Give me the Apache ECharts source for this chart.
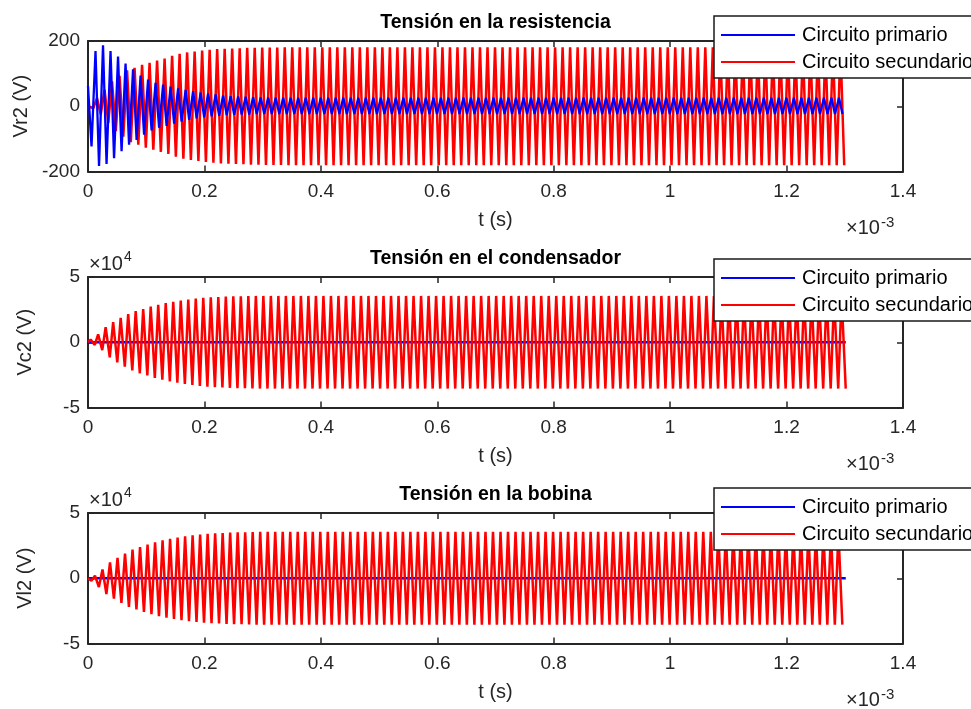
<!DOCTYPE html>
<html><head><meta charset="utf-8">
<script src="https://cdn.jsdelivr.net/npm/echarts@6/dist/echarts.min.js"></script>
<style>html,body{margin:0;padding:0;background:#fff}#c{width:971px;height:709px}</style>
</head><body><div id="c"></div>
<script>
// ---------- data ----------
const titles = ['Tensión en la resistencia', 'Tensión en el condensador', 'Tensión en la bobina'];
const yNames = ['Vr2 (V)', 'Vc2 (V)', 'Vl2 (V)'];
const seriesNames = ['Circuito primario', 'Circuito secundario'];
const xLabel = 't (s)';
const xMin = 0, xMax = 1.4e-3, xStep = 2e-4;          // ticks 0 ... 1.4 (x10^-3)
const yRanges = [[-200, 200, 200], [-5e4, 5e4, 5e4], [-5e4, 5e4, 5e4]];
const yLabelDiv = [1, 1e4, 1e4];

const periodS = 1.29e-5;      // oscillation period
const tEndS = 1.3017e-3;      // last time sample

// Vr2, secondary circuit: amplitude (V) of each cycle, peak at (k+0.2)T, trough at (k+0.7)T
const vr2SecAmp = [
  6, 25, 51, 76, 93, 110, 118, 127, 133, 140,
  146, 155, 161, 165, 168, 171, 173, 175, 176, 177,
  178, 179, 179, 180, 180, 180, 181, 181, 181, 181,
  181, 181, 181, 181, 181, 181, 181, 181, 181, 181,
  181, 181, 181, 181, 181, 181, 181, 181, 181, 181,
  181, 181, 181, 181, 181, 181, 181, 181, 181, 181,
  181, 181, 181, 181, 181, 181, 181, 181, 181, 181,
  181, 181, 181, 181, 181, 181, 181, 181, 181, 181,
  181, 181, 181, 181, 181, 181, 181, 181, 181, 181,
  181, 181, 181, 181, 181, 181, 181, 181, 181, 181,
  181];
const vr2SecPhase = [0.2, 0.7];

// Vr2, primary circuit: positive peaks (at kT) and negative troughs (at (k+0.47)T), V
const vr2PrimPos = [
  62, 169, 187, 169, 152, 131, 113, 94, 82, 72,
  66, 60, 55, 50, 46, 42, 39, 36, 33, 31,
  30, 29, 28, 27, 27, 26, 26, 26, 26, 26,
  26, 26, 26, 26, 26, 26, 26, 26, 26, 26,
  26, 26, 26, 26, 26, 26, 26, 26, 26, 26,
  26, 26, 26, 26, 26, 26, 26, 26, 26, 26,
  26, 26, 26, 26, 26, 26, 26, 26, 26, 26,
  26, 26, 26, 26, 26, 26, 26, 26, 26, 26,
  26, 26, 26, 26, 26, 26, 26, 26, 26, 26,
  26, 26, 26, 26, 26, 26, 26, 26, 26, 26,
  26];
const vr2PrimNeg = [
  123, 183, 177, 159, 138, 118, 103, 87, 74, 66,
  60, 53, 47, 42, 37, 34, 31, 29, 27, 26,
  25, 25, 24, 24, 24, 24, 24, 24, 24, 24,
  24, 24, 24, 24, 24, 24, 24, 24, 24, 24,
  24, 24, 24, 24, 24, 24, 24, 24, 24, 24,
  24, 24, 24, 24, 24, 24, 24, 24, 24, 24,
  24, 24, 24, 24, 24, 24, 24, 24, 24, 24,
  24, 24, 24, 24, 24, 24, 24, 24, 24, 24,
  24, 24, 24, 24, 24, 24, 24, 24, 24, 24,
  24, 24, 24, 24, 24, 24, 24, 24, 24, 24,
  24];
const vr2PrimPhase = [0.0, 0.47];

// Vc2, secondary circuit: amplitude (V) per cycle, peak at (k+0.35)T, trough at (k+0.9)T
const vc2SecAmp = [
  2000, 6000, 11500, 15500, 18700, 21500, 23800, 25500, 27300, 28600,
  30000, 31000, 32000, 32800, 33500, 34000, 34400, 34700, 35000, 35200,
  35300, 35400, 35500, 35500, 35500, 35500, 35500, 35500, 35500, 35500,
  35500, 35500, 35500, 35500, 35500, 35500, 35500, 35500, 35500, 35500,
  35500, 35500, 35500, 35500, 35500, 35500, 35500, 35500, 35500, 35500,
  35500, 35500, 35500, 35500, 35500, 35500, 35500, 35500, 35500, 35500,
  35500, 35500, 35500, 35500, 35500, 35500, 35500, 35500, 35500, 35500,
  35500, 35500, 35500, 35500, 35500, 35500, 35500, 35500, 35500, 35500,
  35500, 35500, 35500, 35500, 35500, 35500, 35500, 35500, 35500, 35500,
  35500, 35500, 35500, 35500, 35500, 35500, 35500, 35500, 35500, 35500,
  35500];
const vc2SecPhase = [0.35, 0.9];

// Vl2, secondary circuit: amplitude (V) per cycle, trough at (k+0.45)T, peak at (k+0.93)T
const vl2SecAmp = [
  2000, 6700, 12100, 15700, 18800, 21900, 23900, 25800, 27500, 29000,
  30200, 31200, 32100, 32900, 33500, 34000, 34400, 34700, 35000, 35200,
  35300, 35400, 35500, 35500, 35500, 35500, 35500, 35500, 35500, 35500,
  35500, 35500, 35500, 35500, 35500, 35500, 35500, 35500, 35500, 35500,
  35500, 35500, 35500, 35500, 35500, 35500, 35500, 35500, 35500, 35500,
  35500, 35500, 35500, 35500, 35500, 35500, 35500, 35500, 35500, 35500,
  35500, 35500, 35500, 35500, 35500, 35500, 35500, 35500, 35500, 35500,
  35500, 35500, 35500, 35500, 35500, 35500, 35500, 35500, 35500, 35500,
  35500, 35500, 35500, 35500, 35500, 35500, 35500, 35500, 35500, 35500,
  35500, 35500, 35500, 35500, 35500, 35500, 35500, 35500, 35500, 35500,
  35500];
const vl2SecPhase = [0.93, 0.45];

// primary circuit in the capacitor / coil panels: stays at ~0 V on the 10^4 scale
const primFlatTimes = [0, 1.3017e-3];
const vc1Prim = [0, 0];
const vl1Prim = [0, 0];

// ---------- build series points ----------
function wave(posArr, negArr, phase, startZero) {
  const pts = [];
  if (startZero) pts.push([0, 0]);
  for (let k = 0; k < posArr.length; k++) {
    pts.push([(k + phase[0]) * periodS, posArr[k]]);
    pts.push([(k + phase[1]) * periodS, -negArr[k]]);
  }
  pts.sort((a, b) => a[0] - b[0]);
  return pts.filter(p => p[0] <= tEndS + 1e-12);
}
const flat = (ts, vs) => ts.map((t, i) => [t, vs[i]]);

const dataSets = [
  { prim: wave(vr2PrimPos, vr2PrimNeg, vr2PrimPhase, false), sec: wave(vr2SecAmp, vr2SecAmp, vr2SecPhase, true), primOnTop: true },
  { prim: flat(primFlatTimes, vc1Prim), sec: wave(vc2SecAmp, vc2SecAmp, vc2SecPhase, true), primOnTop: false },
  { prim: flat(primFlatTimes, vl1Prim), sec: wave(vl2SecAmp, vl2SecAmp, vl2SecPhase, true), primOnTop: false }
];

// ---------- layout ----------
const gridTops = [41, 277, 513];
const legendTops = [16, 259, 488];
const gridH = 130.5;
const gridLeft = 88, gridW = 815;
const AX = '#262626';
const FONT = 'Liberation Sans, Arial, Helvetica, sans-serif';

const chart = echarts.init(document.getElementById('c'), null, { renderer: 'canvas' });
const grid = [], xAxis = [], yAxis = [], series = [], title = [], legend = [], graphic = [];
const fmtX = v => String(parseFloat((v * 1e3).toFixed(4)));

gridTops.forEach((top, i) => {
  grid.push({ left: gridLeft, top: top, width: gridW, height: gridH, show: false });
  const line = { show: true, onZero: false, lineStyle: { color: AX, width: 2 } };
  const tick = { show: true, inside: true, length: 6, lineStyle: { color: AX, width: 1.5 } };
  xAxis.push({
    type: 'value', gridIndex: i, position: 'bottom', min: xMin, max: xMax, interval: xStep,
    axisLine: line, axisTick: tick, splitLine: { show: false },
    axisLabel: { fontSize: 19, color: AX, margin: 11, fontFamily: FONT, formatter: fmtX },
    name: xLabel, nameLocation: 'middle', nameGap: 39,
    nameTextStyle: { fontSize: 20, color: AX, fontFamily: FONT }
  });
  xAxis.push({
    type: 'value', gridIndex: i, position: 'top', min: xMin, max: xMax, interval: xStep,
    axisLine: line, axisTick: tick, splitLine: { show: false }, axisLabel: { show: false }
  });
  const yr = yRanges[i];
  yAxis.push({
    type: 'value', gridIndex: i, position: 'left', min: yr[0], max: yr[1], interval: yr[2],
    axisLine: line, axisTick: tick, splitLine: { show: false },
    axisLabel: { fontSize: 19, color: AX, margin: 8, fontFamily: FONT, formatter: v => String(v / yLabelDiv[i]) },
    name: yNames[i], nameLocation: 'middle', nameGap: 53,
    nameTextStyle: { fontSize: 20, color: AX, fontFamily: FONT }
  });
  yAxis.push({
    type: 'value', gridIndex: i, position: 'right', min: yr[0], max: yr[1], interval: yr[2],
    axisLine: line, axisTick: tick, splitLine: { show: false }, axisLabel: { show: false }
  });

  const ds = dataSets[i];
  const primS = {
    name: seriesNames[0], type: 'line', xAxisIndex: 2 * i, yAxisIndex: 2 * i, data: ds.prim,
    showSymbol: false, symbol: 'none', lineStyle: { color: '#0000ff', width: 2.3 }, itemStyle: { color: '#0000ff' },
    z: ds.primOnTop ? 3 : 2, animation: false, silent: true
  };
  const secS = {
    name: seriesNames[1], type: 'line', xAxisIndex: 2 * i, yAxisIndex: 2 * i, data: ds.sec,
    showSymbol: false, symbol: 'none', lineStyle: { color: '#ff0000', width: 2.5 }, itemStyle: { color: '#ff0000' },
    z: ds.primOnTop ? 2 : 3, animation: false, silent: true
  };
  series.push(primS, secS);

  title.push({
    text: titles[i], left: gridLeft + gridW / 2, textAlign: 'center', top: top - 28, padding: 0,
    textStyle: { fontSize: 19.5, fontWeight: 'bold', color: '#000', fontFamily: FONT }
  });

  legend.push({
    data: seriesNames, orient: 'vertical', left: 714, top: legendTops[i],
    backgroundColor: '#fff', borderColor: '#1a1a1a', borderWidth: 1.5, borderRadius: 0,
    padding: [8, 10, 5, 7], itemGap: 5, itemWidth: 74, itemHeight: 2, icon: 'rect',
    selectedMode: false,
    textStyle: { fontSize: 20, color: '#000', fontFamily: FONT, lineHeight: 22, padding: [0, 0, 0, 2] }
  });

  // exponent annotations
  const axisBottom = top + gridH;
  graphic.push({ type: 'text', left: 846, top: axisBottom + 47, style: { text: '×10', fontSize: 20, fill: AX, fontFamily: FONT } });
  graphic.push({ type: 'text', left: 881, top: axisBottom + 44, style: { text: '-3', fontSize: 15, fill: AX, fontFamily: FONT } });
  if (i > 0) {
    graphic.push({ type: 'text', left: 89, top: top - 23, style: { text: '×10', fontSize: 20, fill: AX, fontFamily: FONT } });
    graphic.push({ type: 'text', left: 124, top: top - 27, style: { text: '4', fontSize: 14, fill: AX, fontFamily: FONT } });
  }
});

chart.setOption({
  backgroundColor: '#fff', animation: false,
  grid, xAxis, yAxis, series, title, legend, graphic
});
</script>
</body></html>
